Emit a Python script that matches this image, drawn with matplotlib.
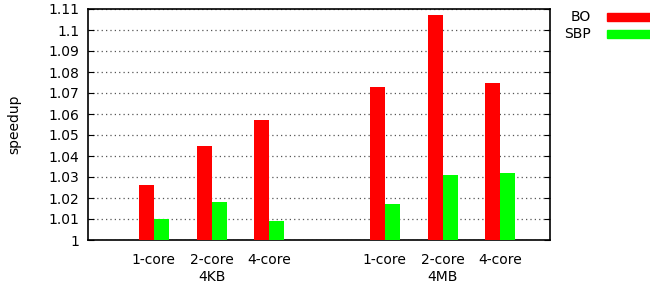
import numpy as np
import matplotlib
matplotlib.use("Agg")
import matplotlib.pyplot as plt
from matplotlib.patches import Rectangle

# speedup per configuration
groups = ["4KB", "4MB"]
cores = ["1-core", "2-core", "4-core"]
bo = [1.026, 1.045, 1.057, 1.073, 1.107, 1.075]
sbp = [1.010, 1.018, 1.009, 1.017, 1.031, 1.032]
yticks = [1, 1.01, 1.02, 1.03, 1.04, 1.05, 1.06, 1.07, 1.08, 1.09, 1.1, 1.11]
series = [("BO", "#ff0000"), ("SBP", "#00ff00")]

plt.rcParams["font.family"] = "DejaVu Sans"
plt.rcParams["font.size"] = 10

W, H = 650, 287
x = np.array([0, 1, 2, 4, 5, 6], dtype=float)
width = 0.26

fig = plt.figure(figsize=(W / 100, H / 100), dpi=100)
ax = fig.add_axes([88 / W, 1 - 240 / H, (550 - 88) / W, (240 - 9) / H])

ax.bar(x - width / 2, np.array(bo) - 1, width, bottom=1, color=series[0][1], zorder=3)
ax.bar(x + width / 2, np.array(sbp) - 1, width, bottom=1, color=series[1][1], zorder=3)

ax.set_ylim(1, 1.11)
ax.set_xlim(-1.14, 6.86)
ax.set_yticks(yticks)
ax.set_yticklabels([f"{t:g}" for t in yticks])
ax.yaxis.grid(True, linestyle=(0, (1, 2.5)), color="#555555", linewidth=0.9, zorder=0)
ax.tick_params(axis="y", direction="in", right=True, length=4, pad=6)
ax.tick_params(axis="x", length=0, pad=9)
ax.set_xticks(x)
ax.set_xticklabels(cores * 2)
for spine in ax.spines.values():
    spine.set_linewidth(1.2)

ax.set_ylabel("speedup", labelpad=20)

for i, g in enumerate(groups):
    ax.text(x[i * 3 + 1], -0.16, g, transform=ax.get_xaxis_transform(), ha="center", va="center")

# legend outside on the right, gnuplot style (label right-aligned, then sample)
for i, (name, col) in enumerate(series):
    yc = 17 + i * 17
    fig.text(591 / W, 1 - yc / H, name, ha="right", va="center")
    fig.patches.append(Rectangle((607 / W, 1 - (yc + 4) / H), 43 / W, 8 / H,
                                 transform=fig.transFigure, color=col, figure=fig))

fig.savefig("out.png", dpi=100)
